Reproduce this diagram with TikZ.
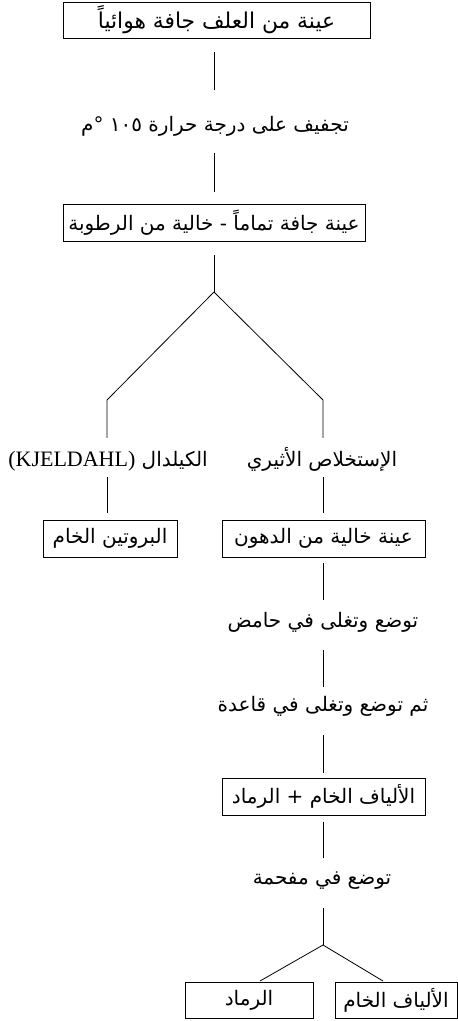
\documentclass[tikz,border=0pt]{standalone}
\usepackage{fontspec}
\setmainfont{Liberation Serif}
\newfontfamily\arabicfont[Script=Arabic]{DejaVu Sans}
\TeXXeTstate=1
\begin{document}
\begin{tikzpicture}[x=1pt,y=-1pt,
  ar/.style={font=\arabicfont\fontsize{20}{24}\selectfont},
  box/.style={ar, draw, line width=0.8pt, inner sep=0pt, minimum height=37pt},
  lbl/.style={ar, inner sep=0pt, text height=14pt, text depth=6pt},
  conn/.style={line width=0.8pt}]
\useasboundingbox (0,0) rectangle (458,1021);
% boxes
\node[box, minimum width=307pt, minimum height=36pt, font=\arabicfont\fontsize{21.8}{24}\selectfont] (top) at (216.5,20) {\beginR عينة من العلف جافة هوائياً\endR};
\node[box, minimum width=302pt] (dry2) at (214,222.5) {\beginR عينة جافة تماماً - خالية من الرطوبة\endR};
\node[box, minimum width=134pt] (prot) at (110,538.5) {\beginR البروتين الخام\endR};
\node[box, minimum width=203pt] (fatfree) at (323.5,538.5) {\beginR عينة خالية من الدهون\endR};
\node[box, minimum width=203pt] (fibash) at (323.5,796.5) {\beginR الألياف الخام + الرماد\endR};
\node[box, minimum width=128pt, minimum height=36pt] (ash) at (249,1000) {\beginR الرماد\endR};
\node[box, minimum width=122pt, minimum height=36pt] (fib) at (396,1000) {\beginR الألياف الخام\endR};
% labels
\node[lbl] (dry) at (215,127) {\beginR تجفيف على درجة حرارة \beginL١٠٥\endL{} °م\endR};
\node[lbl] (kj) at (108,462) {\beginR الكيلدال \beginL{\rmfamily\fontsize{22}{24}\selectfont(KJELDAHL)}\endL\endR};
\node[lbl] (eth) at (322,462) {\beginR الإستخلاص الأثيري\endR};
\node[lbl] (acid) at (323,623) {\beginR توضع وتغلى في حامض\endR};
\node[lbl] (base) at (323,707) {\beginR ثم توضع وتغلى في قاعدة\endR};
\node[lbl] (oven) at (322,880) {\beginR توضع في مفحمة\endR};
% junctions
\coordinate (j1) at (214,292);
\coordinate (l1) at (107,400);
\coordinate (r1) at (323,400);
\coordinate (j2) at (323,945);
\coordinate (l2) at (260,981);
\coordinate (r2) at (383,981);
% connectors
\draw[conn, shorten <=14pt, shorten >=27pt] (j1 |- top.south) -- (j1 |- dry.north);
\draw[conn, shorten <=16pt, shorten >=12pt] (j1 |- dry.south) -- (j1 |- dry2.north);
\draw[conn, shorten <=14pt] (j1 |- dry2.south) -- (j1);
\draw[conn] (j1) -- (l1) -- ([yshift=14pt]l1 |- kj.north);
\draw[conn] (j1) -- (r1) -- ([yshift=14pt]r1 |- eth.north);
\draw[conn, shorten <=5pt, shorten >=7pt] (l1 |- kj.south) -- (l1 |- prot.north);
\draw[conn, shorten <=5pt, shorten >=7pt] (r1 |- eth.south) -- (r1 |- fatfree.north);
\draw[conn, shorten <=6pt, shorten >=13pt] (r1 |- fatfree.south) -- (r1 |- acid.north);
\draw[conn, shorten <=17pt, shorten >=10pt] (r1 |- acid.south) -- (r1 |- base.north);
\draw[conn, shorten <=18pt, shorten >=5pt] (r1 |- base.south) -- (r1 |- fibash.north);
\draw[conn, shorten <=7pt, shorten >=12pt] (r1 |- fibash.south) -- (r1 |- oven.north);
\draw[conn, shorten <=18pt] (r1 |- oven.south) -- (j2);
\draw[conn] (l2) -- (j2) -- (r2);
\end{tikzpicture}
\end{document}
